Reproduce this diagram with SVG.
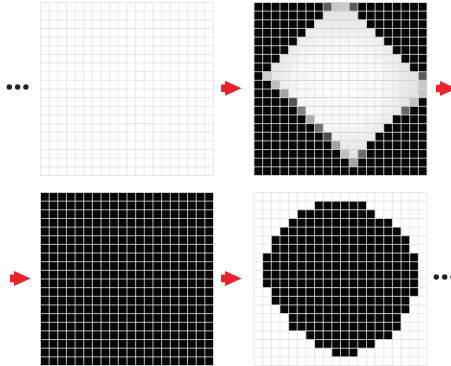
<svg xmlns="http://www.w3.org/2000/svg" xmlns:xlink="http://www.w3.org/1999/xlink" width="451" height="366" viewBox="0 0 451 366">
<style>
.blk{fill:#050505}
.lt{fill:url(#glow)}
.gl{fill:none;stroke:#e2e2e2;stroke-opacity:.8;stroke-width:1;vector-effect:non-scaling-stroke}
.arw{fill:#e8232a}
.dot{fill:#222}
</style>
<defs>
<radialGradient id="glow" gradientUnits="userSpaceOnUse" cx="10" cy="9.5" r="10">
<stop offset="0" stop-color="#ffffff"/>
<stop offset="0.5" stop-color="#f7f7f7"/>
<stop offset="1" stop-color="#dcdcdc"/>
</radialGradient>
<path id="lines" class="gl" d="M0,0V20M1,0V20M2,0V20M3,0V20M4,0V20M5,0V20M6,0V20M7,0V20M8,0V20M9,0V20M10,0V20M11,0V20M12,0V20M13,0V20M14,0V20M15,0V20M16,0V20M17,0V20M18,0V20M19,0V20M20,0V20M0,0H20M0,1H20M0,2H20M0,3H20M0,4H20M0,5H20M0,6H20M0,7H20M0,8H20M0,9H20M0,10H20M0,11H20M0,12H20M0,13H20M0,14H20M0,15H20M0,16H20M0,17H20M0,18H20M0,19H20M0,20H20"/>
<path id="arrow" class="arw" d="M0,-3.8H4V-7.5L20.6,0L4,7.5V3.8H0Z"/>
</defs>
<rect width="451" height="366" fill="#ffffff"/>

<g id="grid-empty" transform="translate(40.5,2.5) scale(8.65)">
<rect width="20" height="20" fill="#ffffff"/>
<use xlink:href="#lines"/>
</g>

<g id="grid-diamond" transform="translate(254,2.5) scale(8.65)">
<rect class="blk" width="20" height="20"/>
<rect class="lt" x="8" y="1" width="4" height="1"/>
<rect class="lt" x="7" y="2" width="6" height="1"/>
<rect class="lt" x="6" y="3" width="8" height="1"/>
<rect class="lt" x="5" y="4" width="10" height="1"/>
<rect class="lt" x="4" y="5" width="12" height="1"/>
<rect class="lt" x="3" y="6" width="14" height="1"/>
<rect class="lt" x="2" y="7" width="16" height="1"/>
<rect class="lt" x="2" y="8" width="17" height="1"/>
<rect class="lt" x="3" y="9" width="16" height="1"/>
<rect class="lt" x="4" y="10" width="15" height="1"/>
<rect class="lt" x="5" y="11" width="13" height="1"/>
<rect class="lt" x="6" y="12" width="11" height="1"/>
<rect class="lt" x="7" y="13" width="9" height="1"/>
<rect class="lt" x="8" y="14" width="7" height="1"/>
<rect class="lt" x="9" y="15" width="5" height="1"/>
<rect class="lt" x="10" y="16" width="3" height="1"/>
<rect class="lt" x="11" y="17" width="1" height="1"/>
<rect x="8" y="0" width="1" height="1" fill="#5c5c5c"/>
<rect x="9" y="0" width="1" height="1" fill="#c4c4c4"/>
<rect x="10" y="0" width="1" height="1" fill="#cacaca"/>
<rect x="11" y="0" width="1" height="1" fill="#585858"/>
<rect x="1" y="8" width="1" height="1" fill="#cfcfcf"/>
<rect x="19" y="8" width="1" height="1" fill="#5a5a5a"/>
<rect x="2" y="9" width="1" height="1" fill="#bdbdbd"/>
<rect x="19" y="9" width="1" height="1" fill="#c8c8c8"/>
<rect x="3" y="10" width="1" height="1" fill="#a6a6a6"/>
<rect x="19" y="10" width="1" height="1" fill="#c6c6c6"/>
<rect x="4" y="11" width="1" height="1" fill="#505050"/>
<rect x="18" y="11" width="1" height="1" fill="#c2c2c2"/>
<rect x="5" y="12" width="1" height="1" fill="#808080"/>
<rect x="17" y="12" width="1" height="1" fill="#686868"/>
<rect x="6" y="13" width="1" height="1" fill="#ababab"/>
<rect x="7" y="14" width="1" height="1" fill="#6e6e6e"/>
<rect x="8" y="15" width="1" height="1" fill="#4e4e4e"/>
<rect x="9" y="16" width="1" height="1" fill="#a2a2a2"/>
<rect x="10" y="17" width="1" height="1" fill="#c0c0c0"/>
<rect x="12" y="17" width="1" height="1" fill="#6c6c6c"/>
<rect x="11" y="18" width="1" height="1" fill="#a2a2a2"/>
<use xlink:href="#lines"/>
</g>

<g id="grid-full" transform="translate(40.5,192.5) scale(8.65)">
<rect class="blk" width="20" height="20"/>
<use xlink:href="#lines"/>
</g>

<g id="grid-disc" transform="translate(254,192.5) scale(8.65)">
<rect width="20" height="20" fill="#ffffff"/>
<rect class="blk" x="7" y="1" width="6" height="1"/>
<rect class="blk" x="5" y="2" width="9" height="1"/>
<rect class="blk" x="4" y="3" width="12" height="1"/>
<rect class="blk" x="3" y="4" width="14" height="1"/>
<rect class="blk" x="2" y="5" width="16" height="2"/>
<rect class="blk" x="1" y="7" width="18" height="4"/>
<rect class="blk" x="2" y="11" width="17" height="1"/>
<rect class="blk" x="2" y="12" width="16" height="1"/>
<rect class="blk" x="3" y="13" width="15" height="1"/>
<rect class="blk" x="4" y="14" width="13" height="2"/>
<rect class="blk" x="6" y="16" width="10" height="1"/>
<rect class="blk" x="7" y="17" width="7" height="1"/>
<rect class="blk" x="9" y="18" width="3" height="1"/>
<use xlink:href="#lines"/>
</g>

<g id="connectors">
<use xlink:href="#arrow" transform="translate(221,88.3)"/>
<use xlink:href="#arrow" transform="translate(436,88.5)"/>
<use xlink:href="#arrow" transform="translate(10,278.4)"/>
<use xlink:href="#arrow" transform="translate(221,278.4)"/>
</g>

<g id="ellipsis-left">
<circle class="dot" cx="9.3" cy="87" r="2.7"/>
<circle class="dot" cx="17.6" cy="87" r="2.7"/>
<circle class="dot" cx="25.9" cy="87" r="2.7"/>
</g>
<g id="ellipsis-right">
<circle class="dot" cx="436.3" cy="277" r="2.7"/>
<circle class="dot" cx="444.7" cy="277" r="2.7"/>
<circle class="dot" cx="453" cy="277" r="2.7"/>
</g>
</svg>
